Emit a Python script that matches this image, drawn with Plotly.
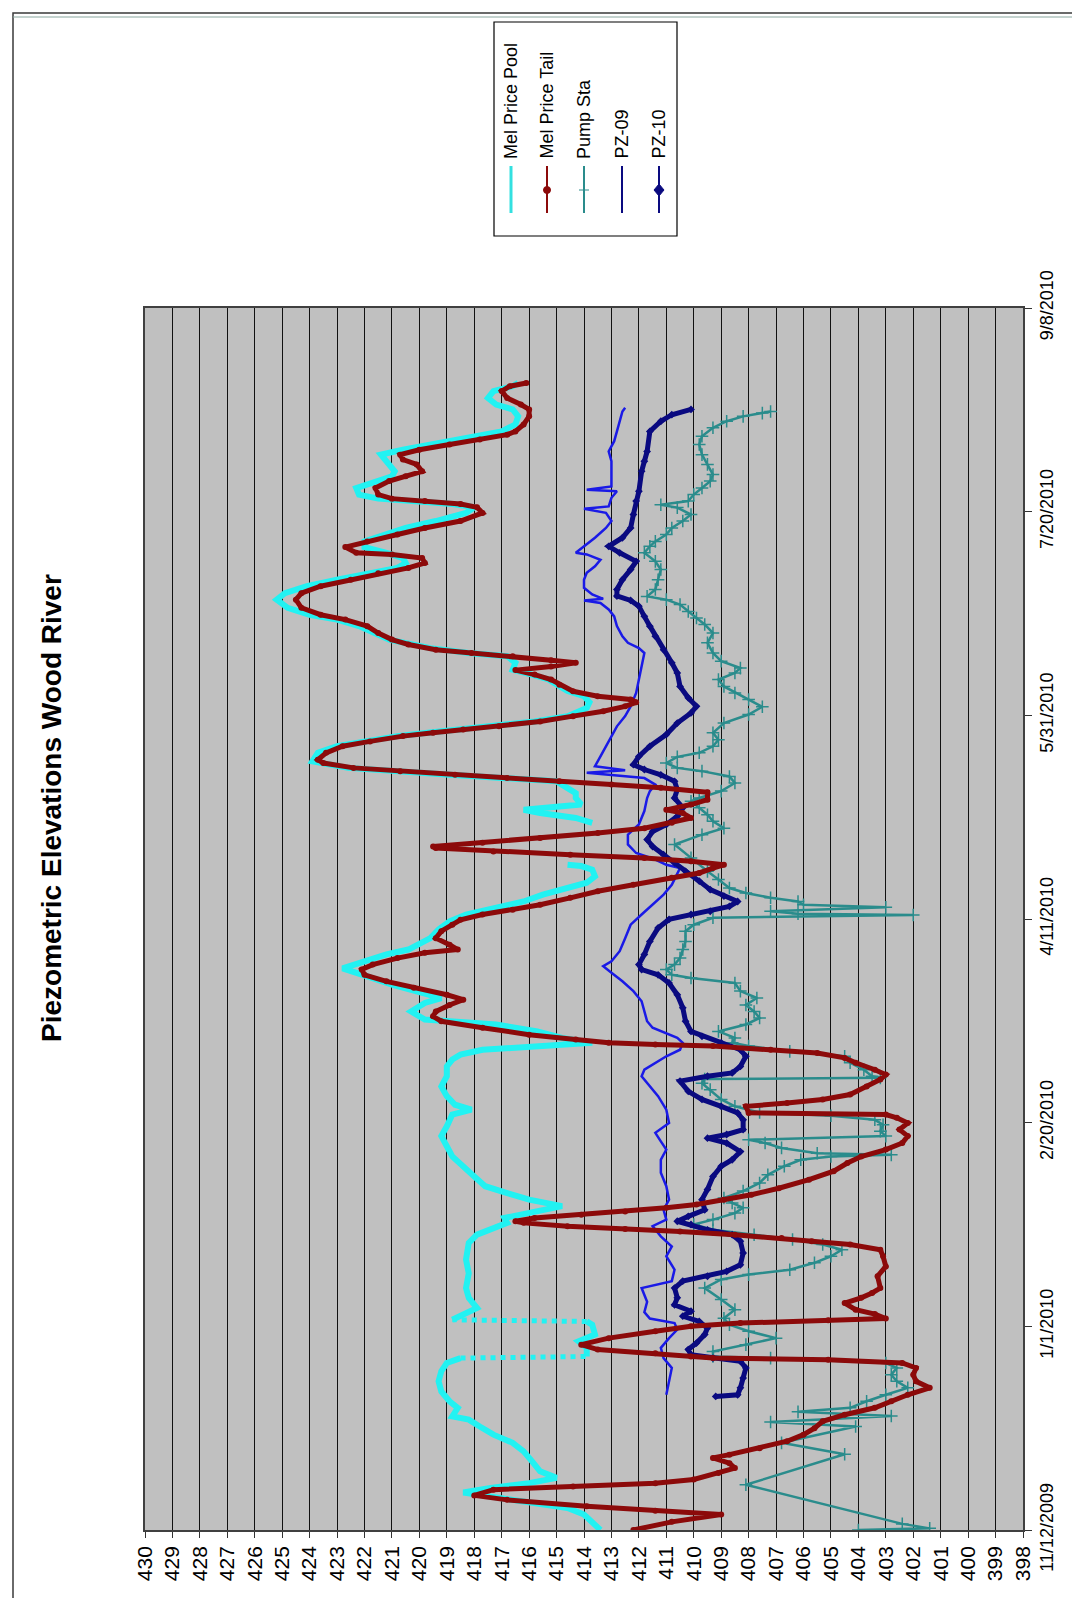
import pandas as pd
import plotly.graph_objects as go

# ---------------- data (day offset from 11/12/2009, elevation ft) ----------------
start_date = "2009-11-12"

pool_day = [0, 2.1, 3.8, 5.4, 7.0, 8.3, 9.2, 10.3, 11.5, 12.8, 14.4, 16.9, 19.3, 21.4, 23.4, 25.4, 27.1, 27.9,
            30.0, 31.6, 34.0, 36.5, 39.0, 41.0, 42.2, 42.6, 44.7, 46.3, 48.0, 50.4, 51.2, 51.6, 54.5, 57.0, 59.4,
            63.0, 66.4, 70.5, 72.5, 75.4, 76.6, 79.5, 81.1, 82.7, 84.4, 86.8, 89.3, 91.7, 94.2, 96.7, 99.1, 102.0,
            103.2, 104.4, 106.5, 108.9, 111.4, 113.8, 115.5, 116.7, 117.9, 118.8, 119.6, 120.8, 122.4, 124.1,
            125.3, 127.3, 129.4, 130.6, 131.8, 133.9, 135.9, 137.9, 139.6, 141.3, 142.5, 143.7, 145.3, 147.4,
            149.4, 151.1, 152.7, 154.3, 156.0, 157.6, 158.9, 160.5, 162.1, 163.0, 163.3, 165.0, 167.6, 170.0,
            173.6, 174.8, 176.0, 176.8, 178.1, 178.9, 179.7, 180.9, 183.8, 185.4, 187.1, 188.7, 190.8, 192.4,
            193.6, 194.9, 195.7, 196.5, 197.3, 198.5, 199.8, 201.8, 203.2, 204.7, 206.0, 208.8, 210.0, 211.2,
            212.9, 214.5, 215.3, 216.5, 218.6, 220.2, 221.9, 223.5, 224.7, 226.4, 228.4, 230.0, 231.7, 233.3,
            234.9, 236.2, 237.4, 238.6, 239.9, 241.3, 242.7, 244.4, 246.0, 247.7, 249.7, 251.1, 251.9, 253.2,
            254.2, 255.8, 257.5, 258.7, 259.9, 262.8, 264.0, 265.2, 266.5, 267.7, 268.9, 269.7, 271.4, 273.4,
            275.1, 276.3, 277.9, 279.6, 280.8, 281.6]
pool_elev = [413.4, 413.7, 414.0, 414.6, 416.2, 417.6, 418.4, 417.4, 416.0, 415.0, 415.6, 415.9, 416.2, 416.6,
             417.3, 417.8, 418.2, 418.8, 418.6, 418.9, 419.2, 419.3, 419.2, 419.0, 418.5, 413.9, 413.9, 414.2,
             413.6, 413.7, 413.9, 418.8, 417.9, 418.2, 418.3, 418.2, 418.3, 418.2, 417.9, 416.8, 416.9, 414.8,
             416.0, 416.8, 417.6, 418.0, 418.4, 418.8, 419.0, 419.2, 419.0, 418.8, 418.1, 418.7, 419.0, 419.2,
             419.0, 419.0, 418.8, 418.5, 417.7, 415.6, 413.7, 414.8, 415.7, 417.2, 419.8, 420.3, 419.8, 419.2,
             419.9, 421.0, 421.9, 422.8, 422.0, 421.2, 420.4, 420.0, 419.6, 419.3, 418.9, 418.3, 417.3, 416.2,
             415.5, 414.7, 413.9, 413.6, 413.7, 414.1, 414.6, None, 419.9, None, 413.7, 414.3, 415.6, 416.2,
             414.1, 414.2, 414.3, 414.3, 415.0, 418.9, 422.6, 423.9, 423.7, 423.0, 422.0, 420.8, 419.7, 418.6,
             417.3, 415.8, 414.6, 413.9, 413.8, 414.0, 414.6, 415.3, 415.9, 416.6, 416.5, 416.8, 418.2, 419.6,
             421.1, 421.7, 422.2, 423.0, 424.0, 424.8, 425.2, 424.9, 424.1, 423.0, 421.9, 420.8, 420.5, 420.6,
             421.2, 422.0, 422.0, 421.3, 420.5, 419.4, 418.3, 418.0, 418.8, 421.5, 422.2, 422.3, 421.6, 421.0,
             420.9, 421.3, 421.4, 420.6, 419.6, 418.6, 417.6, 417.0, 416.5, 416.4, 416.6, 417.2, 417.5, 417.3,
             416.6, 416.4]

tail_day = [0, 2.0, 3.8, 4.7, 5.8, 7.4, 8.5, 9.9, 10.7, 11.5, 12.4, 14.0, 15.2, 16.4, 17.7, 18.5, 20.1, 21.8,
            23.4, 25.0, 26.7, 28.3, 30.0, 31.6, 33.2, 34.9, 36.5, 38.1, 39.8, 41.0, 41.8, 42.2, 42.6, 43.4, 44.3,
            45.5, 47.1, 48.8, 50.0, 50.8, 51.5, 51.9, 53.0, 54.1, 55.7, 57.0, 58.2, 59.4, 62.3, 64.7, 67.2, 68.8,
            70.1, 70.9, 71.7, 72.5, 73.3, 73.9, 74.6, 75.4, 75.8, 76.6, 77.4, 78.2, 79.1, 79.9, 81.1, 82.3, 83.9,
            86.0, 88.1, 90.1, 91.7, 93.4, 95.0, 96.7, 98.3, 99.9, 101.2, 102.0, 102.4, 104.0, 104.8, 105.7, 106.9,
            108.9, 110.6, 111.8, 113.0, 114.7, 115.9, 117.1, 117.9, 118.8, 119.2, 119.6, 120.4, 121.6, 123.3,
            124.9, 126.1, 127.3, 128.9, 130.2, 131.4, 133.1, 134.7, 136.3, 137.6, 138.8, 140.4, 141.7, 142.5,
            143.7, 145.3, 147.0, 148.6, 149.8, 151.1, 152.3, 153.5, 155.2, 156.8, 158.4, 160.1, 161.3, 162.5,
            163.3, 164.2, 165.0, 165.8, 166.6, 167.4, 167.8, 168.7, 169.9, 171.1, 172.3, 173.6, 174.8, 176.0,
            176.8, 178.1, 179.3, 181.1, 182.2, 183.0, 183.8, 184.6, 185.4, 186.3, 187.1, 188.3, 189.1, 190.8,
            192.4, 193.6, 194.9, 195.7, 196.5, 197.3, 198.5, 199.8, 201.0, 202.2, 203.2, 203.9, 204.7, 205.9,
            207.5, 208.8, 210.0, 211.1, 212.0, 212.9, 213.5, 214.5, 215.3, 216.1, 217.4, 218.6, 220.2, 221.9,
            223.5, 224.7, 226.4, 228.4, 230.0, 231.7, 233.3, 234.9, 236.2, 237.4, 238.6, 239.5, 239.9, 241.3,
            242.7, 244.4, 246.0, 247.7, 249.7, 251.1, 251.9, 252.6, 253.2, 254.2, 255.8, 257.5, 258.7, 259.9,
            261.6, 262.8, 264.0, 265.2, 266.5, 267.7, 268.9, 269.7, 271.4, 273.4, 275.1, 276.3, 277.9, 279.6,
            280.8, 281.6]
tail_elev = [412.2, 410.8, 409.0, 411.4, 413.9, 416.8, 418.0, 417.3, 414.4, 411.4, 410.0, 409.1, 408.5, 408.7,
             409.3, 408.7, 407.6, 406.6, 406.0, 405.6, 405.3, 404.5, 403.4, 402.8, 402.2, 401.4, 401.9, 402.0,
             401.9, 402.4, 405.1, 409.3, 410.1, 411.4, 413.5, 414.1, 413.1, 411.4, 410.1, 408.3, 405.1, 403.0,
             403.4, 404.1, 404.5, 403.9, 403.5, 403.2, 403.3, 403.0, 403.1, 403.2, 404.3, 405.7, 406.8, 408.5,
             410.5, 412.5, 414.6, 416.2, 416.5, 415.8, 414.1, 412.5, 411.0, 409.9, 408.9, 407.9, 406.9, 405.8,
             404.9, 404.4, 403.9, 403.0, 402.4, 402.2, 402.5, 402.2, 402.6, 403.0, 408.0, 408.1, 406.6, 405.3,
             404.3, 403.7, 403.2, 403.0, 403.4, 404.1, 404.5, 405.5, 407.2, 409.3, 411.4, 413.1, 414.3, 416.0,
             417.7, 419.2, 419.5, 419.4, 418.9, 418.4, 419.0, 420.2, 421.2, 422.0, 422.1, 421.7, 420.8, 419.8,
             418.6, 418.9, 419.4, 419.2, 418.8, 418.5, 417.7, 416.6, 415.6, 414.5, 413.5, 412.2, 410.8, 409.8,
             409.3, 408.9, 410.1, 411.8, 414.5, 417.3, 419.4, 419.5, 417.7, 415.6, 413.5, 411.8, 410.8, 410.1,
             410.4, 411.0, 410.1, 409.5, 409.5, 411.2, 413.0, 414.9, 416.8, 418.7, 420.7, 422.4, 423.5, 423.7,
             423.4, 422.8, 421.8, 420.6, 419.5, 418.4, 417.1, 415.6, 414.4, 413.3, 412.5, 412.1, 412.3, 413.5,
             414.4, 414.9, 415.2, 415.8, 416.5, 415.2, 414.3, 415.2, 416.6, 418.1, 419.4, 420.4, 421.0, 421.5,
             421.9, 422.7, 423.6, 424.3, 424.5, 424.3, 423.6, 422.5, 421.5, 420.4, 419.8, 419.9, 421.0, 422.3,
             422.7, 421.9, 420.8, 419.8, 418.5, 417.7, 417.9, 418.5, 419.8, 421.0, 421.5, 421.6, 421.1, 420.5,
             419.9, 420.1, 420.6, 420.7, 420.0, 418.9, 417.8, 416.8, 416.5, 416.2, 416.0, 416.0, 416.3, 416.8,
             417.0, 416.7, 416.1]

pump_day = [0, 0.4, 1.5, 11.1, 18.6, 21.4, 25.4, 26.5, 28.0, 29.0, 30.0, 31.6, 33.2, 34.9, 36.5, 38.1, 39.8,
            41.0, 42.2, 42.6, 43.8, 45.5, 47.1, 48.8, 50.4, 52.0, 54.1, 56.6, 59.4, 61.5, 62.7, 63.9, 65.6, 67.2,
            68.8, 70.1, 71.3, 72.5, 73.7, 75.0, 76.2, 77.8, 79.1, 80.3, 81.5, 83.2, 85.2, 87.2, 89.3, 90.9, 91.7,
            92.1, 92.5, 93.8, 95.0, 95.8, 96.7, 97.9, 99.5, 100.7, 101.7, 102.5, 104.0, 105.7, 108.1, 109.7,
            110.7, 111.0, 111.4, 113.0, 114.7, 116.3, 117.5, 118.8, 119.6, 120.8, 122.4, 124.1, 125.7, 127.3,
            128.9, 130.6, 132.3, 134.3, 135.5, 136.3, 137.6, 138.8, 140.4, 142.5, 144.5, 147.0, 148.6, 150.3,
            151.0, 151.3, 151.9, 152.9, 153.5, 154.3, 155.2, 156.4, 157.6, 159.7, 161.7, 165.0, 168.3, 170.7,
            172.3, 174.0, 175.6, 177.3, 178.9, 179.7, 181.4, 183.4, 185.0, 186.3, 187.1, 188.3, 189.8, 190.8,
            192.4, 194.0, 195.7, 198.1, 200.2, 202.1, 203.9, 205.5, 207.1, 208.8, 210.4, 211.6, 213.3, 215.3,
            217.8, 220.2, 222.3, 223.9, 225.5, 227.2, 228.4, 229.2, 230.9, 233.3, 235.8, 237.8, 239.9, 241.5,
            242.7, 244.4, 246.0, 247.7, 249.3, 251.0, 251.7, 252.6, 254.2, 255.8, 257.5, 259.1, 261.6, 264.0,
            266.5, 268.5, 270.6, 272.2, 273.4, 274.2, 274.6]
pump_elev = [404.0, 401.4, 402.4, 408.1, 404.5, 406.8, 404.1, 407.2, 402.8, 406.2, 404.3, 403.7, 403.0, 402.2,
             402.6, 402.8, 402.6, 403.0, 407.2, 409.3, 409.3, 408.1, 407.0, 408.0, 408.7, 408.9, 408.5, 409.0,
             409.6, 409.0, 408.0, 406.5, 405.6, 405.0, 404.6, 405.3, 406.4, 407.8, 409.3, 410.0, 409.3, 408.5,
             408.2, 408.6, 408.9, 408.2, 407.6, 407.3, 406.7, 406.1, 405.0, 402.8, 405.5, 406.8, 407.4, 408.0,
             403.0, 403.2, 403.1, 403.4, 405.0, 407.6, 408.5, 409.0, 409.4, 409.7, 409.6, 403.2, 403.5, 403.8,
             404.3, 404.5, 406.5, 408.0, 408.6, 408.5, 409.1, 408.1, 407.6, 407.8, 408.1, 407.7, 408.3, 408.5,
             410.1, 410.8, 411.0, 410.7, 410.5, 410.4, 410.3, 410.3, 410.0, 409.3, 402.0, 406.2, 407.2, 403.0,
             406.0, 406.2, 407.2, 408.1, 408.7, 409.1, 409.5, 410.1, 410.7, 409.7, 408.9, 409.3, 409.5, 409.8,
             410.1, 409.8, 409.0, 408.5, 408.7, 409.7, 410.6, 411.0, 410.6, 409.8, 409.3, 409.1, 409.3, 408.9,
             408.0, 407.5, 408.0, 408.5, 408.9, 409.1, 408.5, 408.3, 409.0, 409.3, 409.5, 409.3, 409.6, 409.9,
             410.2, 410.5, 411.0, 411.7, 411.4, 411.3, 411.2, 411.4, 411.8, 411.6, 411.4, 411.0, 410.8, 410.4,
             410.1, 410.6, 411.2, 410.2, 410.0, 409.7, 409.4, 409.3, 409.5, 409.7, 409.8, 409.7, 409.3, 408.8,
             408.2, 407.5, 407.2]

pz09_day = [33.2, 36.5, 39.8, 42.2, 44.7, 47.1, 49.2, 50.8, 51.9, 53.5, 56.0, 59.4, 61.1, 63.9, 67.2, 69.6, 72.1,
            74.6, 76.2, 78.6, 81.1, 84.4, 87.7, 90.9, 93.4, 95.4, 97.5, 99.9, 103.2, 106.5, 108.9, 111.4, 113.0,
            114.7, 116.3, 117.9, 119.6, 120.8, 122.0, 123.3, 124.9, 127.3, 129.8, 132.3, 134.7, 136.8, 138.4,
            139.6, 142.1, 145.3, 148.6, 151.1, 153.5, 156.0, 158.4, 160.9, 162.5, 163.3, 164.6, 166.2, 168.3,
            170.7, 173.2, 176.5, 179.7, 181.4, 183.0, 184.6, 185.9, 186.5, 187.5, 189.9, 192.4, 194.9, 197.3,
            199.8, 202.2, 205.5, 208.8, 212.0, 215.3, 216.5, 217.8, 219.4, 221.9, 224.3, 226.0, 227.6, 228.2,
            228.6, 229.7, 231.3, 233.3, 235.0, 236.6, 238.2, 239.5, 239.9, 241.5, 243.6, 246.0, 247.7, 249.7,
            250.7, 251.3, 253.4, 255.0, 255.4, 256.2, 259.1, 262.4, 264.8, 267.3, 269.7, 272.2, 274.6, 275.5]
pz09_elev = [411.0, 410.9, 410.8, 411.1, 411.2, 410.9, 410.6, 410.7, 411.6, 411.8, 411.7, 411.9, 410.8, 410.7,
             411.0, 410.8, 411.2, 411.5, 411.0, 411.1, 410.9, 411.0, 411.2, 411.2, 411.0, 411.2, 411.4, 410.9,
             411.0, 411.3, 411.6, 411.9, 411.8, 411.4, 411.0, 410.5, 410.4, 410.6, 411.0, 411.5, 411.7, 411.8,
             411.9, 412.2, 412.6, 413.0, 413.3, 413.0, 412.7, 412.5, 412.3, 411.9, 411.5, 411.1, 410.8, 410.6,
             410.5, 411.0, 411.4, 412.1, 412.4, 412.4, 412.0, 411.8, 411.7, 411.6, 411.4, 411.8, 413.9, 412.5,
             413.6, 413.4, 413.2, 413.0, 412.8, 412.5, 412.3, 412.1, 412.0, 411.9, 411.8, 412.0, 412.4, 412.6,
             412.8, 412.9, 413.1, 413.4, 414.0, 413.3, 413.7, 414.0, 414.0, 413.9, 413.6, 413.4, 413.9, 414.3,
             414.0, 413.6, 413.2, 413.0, 413.2, 414.0, 413.1, 413.0, 412.8, 413.9, 413.0, 413.0, 413.0, 413.1,
             412.9, 412.8, 412.7, 412.6, 412.5]

pz10_day = [32.8, 33.2, 34.9, 37.3, 39.8, 41.4, 42.2, 43.0, 44.3, 45.9, 48.0, 49.6, 51.2, 52.5, 53.7, 55.3, 57.0,
            59.4, 61.1, 62.3, 63.5, 65.1, 68.0, 70.9, 72.5, 73.7, 75.0, 75.8, 77.0, 78.6, 81.1, 83.6, 86.8, 89.3,
            90.9, 92.9, 95.0, 96.2, 97.1, 98.3, 100.7, 102.4, 104.0, 105.7, 107.7, 110.2, 111.4, 112.2, 113.8,
            116.3, 117.9, 119.6, 121.2, 122.4, 124.9, 128.2, 131.4, 134.3, 136.3, 137.6, 138.8, 141.3, 144.5,
            147.8, 149.9, 151.1, 151.9, 153.1, 154.3, 155.6, 157.2, 159.3, 161.7, 163.8, 165.8, 167.8, 169.5,
            171.5, 173.2, 175.2, 177.3, 179.7, 181.8, 183.8, 185.4, 186.7, 187.9, 189.9, 192.4, 195.3, 198.1,
            200.6, 202.2, 204.3, 207.1, 210.4, 212.9, 216.1, 219.4, 221.9, 224.3, 226.8, 228.2, 229.3, 230.9,
            233.3, 235.8, 237.8, 239.9, 241.5, 243.6, 246.0, 249.3, 252.6, 255.0, 259.9, 262.4, 264.8, 269.7,
            272.2, 273.8, 275.1]
pz10_elev = [409.2, 408.4, 408.3, 408.2, 408.1, 408.3, 409.3, 410.1, 410.2, 409.9, 409.6, 409.5, 409.8, 410.4,
             410.1, 410.7, 410.6, 410.7, 410.4, 409.5, 408.8, 408.3, 408.2, 408.3, 408.6, 409.5, 410.1, 410.6,
             410.2, 409.6, 409.7, 409.5, 409.3, 409.0, 408.6, 408.3, 408.8, 409.5, 408.8, 408.2, 408.2, 408.4,
             409.0, 409.7, 410.2, 410.5, 409.5, 408.6, 408.3, 408.1, 408.3, 409.0, 409.7, 410.1, 410.3, 410.4,
             410.6, 410.9, 411.3, 411.9, 412.0, 411.8, 411.6, 411.3, 410.9, 410.1, 409.4, 408.7, 408.4, 408.9,
             409.4, 409.8, 410.3, 410.7, 411.1, 411.5, 411.7, 411.5, 411.0, 410.6, 410.4, 410.7, 410.6, 410.7,
             411.2, 411.8, 412.2, 412.0, 411.6, 411.0, 410.6, 410.1, 409.9, 410.2, 410.5, 410.6, 410.8, 411.1,
             411.4, 411.6, 411.8, 412.0, 412.3, 412.8, 412.8, 412.6, 412.3, 412.1, 412.7, 413.1, 412.6, 412.3,
             412.2, 412.1, 412.0, 411.9, 411.8, 411.7, 411.6, 411.2, 410.8, 410.1]

date_ticks = ["2009-11-12", "2010-01-01", "2010-02-20", "2010-04-11", "2010-05-31", "2010-07-20", "2010-09-08"]
date_tick_labels = ["11/12/2009", "1/1/2010", "2/20/2010", "4/11/2010", "5/31/2010", "7/20/2010", "9/8/2010"]
elev_ticks = list(range(398, 431))

series_names = ["Mel Price Pool", "Mel Price Tail", "Pump Sta", "PZ-09", "PZ-10"]
series_colors = ["#22F2F2", "#8C0A0A", "#2A8C8C", "#1A1AE6", "#0A0A80"]
legend_colors = ["#33E0E0", "#8C0A0A", "#2A8C8C", "#0A0A80", "#0A0A80"]

# ---------------- figure ----------------
W, H = 1080, 1598
L, R, T, B = 137, 1015, 300, 1522   # plot area in pixels


def dates(days):
    return pd.Timestamp(start_date) + pd.to_timedelta(days, unit="D")


def px(x):
    return (x - L) / (R - L)


def py(y):
    return (B - y) / (B - T)


# Pool: sparse big jumps (sensor gaps) are drawn as dotted steps, as in the original
pool_main_e, pool_main_d, jump_e, jump_d = [], [], [], []
for i in range(len(pool_day)):
    if i > 0 and pool_elev[i] is not None and pool_elev[i - 1] is not None:
        rate = abs(pool_elev[i] - pool_elev[i - 1]) / (pool_day[i] - pool_day[i - 1])
        if rate > 3:
            jump_e += [pool_elev[i - 1], pool_elev[i], None]
            jump_d += [pool_day[i - 1], pool_day[i], pool_day[i]]
            pool_main_e.append(None)
            pool_main_d.append(pool_day[i])
    pool_main_e.append(pool_elev[i])
    pool_main_d.append(pool_day[i])

fig = go.Figure()
fig.add_trace(go.Scatter(x=pool_main_e, y=dates(pool_main_d), mode="lines", name=series_names[0],
                         line=dict(color=series_colors[0], width=6), connectgaps=False))
fig.add_trace(go.Scatter(x=jump_e, y=dates(jump_d), mode="lines", showlegend=False,
                         line=dict(color=series_colors[0], width=5, dash="dot"), connectgaps=False))
fig.add_trace(go.Scatter(x=pump_elev, y=dates(pump_day), mode="lines+markers", name=series_names[2],
                         line=dict(color=series_colors[2], width=2.5),
                         marker=dict(symbol="cross-thin", size=9, line=dict(color=series_colors[2], width=1.5))))
fig.add_trace(go.Scatter(x=pz09_elev, y=dates(pz09_day), mode="lines", name=series_names[3],
                         line=dict(color=series_colors[3], width=2.5)))
fig.add_trace(go.Scatter(x=pz10_elev, y=dates(pz10_day), mode="lines+markers", name=series_names[4],
                         line=dict(color=series_colors[4], width=5),
                         marker=dict(symbol="diamond", size=6, color=series_colors[4])))
fig.add_trace(go.Scatter(x=tail_elev, y=dates(tail_day), mode="lines+markers", name=series_names[1],
                         line=dict(color=series_colors[1], width=5),
                         marker=dict(symbol="circle", size=6, color=series_colors[1])))

fig.update_layout(
    width=W, height=H,
    margin=dict(l=L, r=W - R, t=T, b=H - B, pad=0),
    paper_bgcolor="white", plot_bgcolor="#C0C0C0",
    showlegend=False,
    font=dict(family="Liberation Sans, Arial, sans-serif", color="black"),
)
fig.update_xaxes(range=[430, 398], tickvals=elev_ticks, ticks="outside", ticklen=6, tickcolor="#333",
                 tickangle=-90, tickfont=dict(size=21), showgrid=True, gridcolor="#111", gridwidth=1,
                 zeroline=False, showline=True, linecolor="#404040", linewidth=1.5, mirror=True)
fig.update_yaxes(type="date", range=[date_ticks[0], date_ticks[-1]], tickvals=date_ticks,
                 ticktext=date_tick_labels, side="right", ticks="outside", ticklen=7, tickcolor="#333",
                 tickangle=-90, tickfont=dict(size=18), showgrid=False, zeroline=False,
                 showline=True, linecolor="#404040", linewidth=1.5, mirror=True)

shapes = []
# page border
shapes.append(dict(type="rect", xref="paper", yref="paper", x0=px(5), x1=px(1076), y0=py(1595), y1=py(5),
                   line=dict(color="#3a3a3a", width=1.5)))
shapes.append(dict(type="line", xref="paper", yref="paper", x0=px(5), x1=px(1076), y0=py(9), y1=py(9),
                   line=dict(color="#8aa8a0", width=1)))
# legend box
shapes.append(dict(type="rect", xref="paper", yref="paper", x0=px(486), x1=px(669), y0=py(228), y1=py(14),
                   line=dict(color="black", width=1.2), fillcolor="white"))
leg_x = [503, 539, 576, 614, 651]
annotations = []
for i, (name, col) in enumerate(zip(series_names, legend_colors)):
    xx = leg_x[i]
    shapes.append(dict(type="line", xref="paper", yref="paper", x0=px(xx), x1=px(xx), y0=py(205), y1=py(158),
                       line=dict(color=col, width=3 if i == 0 else 2)))
    annotations.append(dict(text=name, x=px(xx), y=py(153), xref="paper", yref="paper", showarrow=False,
                            textangle=-90, xanchor="center", yanchor="bottom",
                            font=dict(size=18, color="black")))
# legend markers
shapes.append(dict(type="circle", xref="paper", yref="paper", x0=px(leg_x[1] - 3.5), x1=px(leg_x[1] + 3.5),
                   y0=py(185.5), y1=py(178.5), fillcolor=legend_colors[1], line=dict(color=legend_colors[1], width=1)))
shapes.append(dict(type="line", xref="paper", yref="paper", x0=px(leg_x[2] - 5), x1=px(leg_x[2] + 5),
                   y0=py(182), y1=py(182), line=dict(color=legend_colors[2], width=1)))
shapes.append(dict(type="path", xref="paper", yref="paper",
                   path=f"M {px(leg_x[4])},{py(176)} L {px(leg_x[4] + 5)},{py(182)} L {px(leg_x[4])},{py(188)} "
                        f"L {px(leg_x[4] - 5)},{py(182)} Z",
                   fillcolor=legend_colors[4], line=dict(color=legend_colors[4], width=1)))

annotations.append(dict(text="<b>Piezometric Elevations Wood River</b>", x=px(43), y=py(800), xref="paper",
                        yref="paper", showarrow=False, textangle=-90, xanchor="center", yanchor="middle",
                        font=dict(size=28, color="black")))

fig.update_layout(shapes=shapes, annotations=annotations)
fig.write_html("out.html")
